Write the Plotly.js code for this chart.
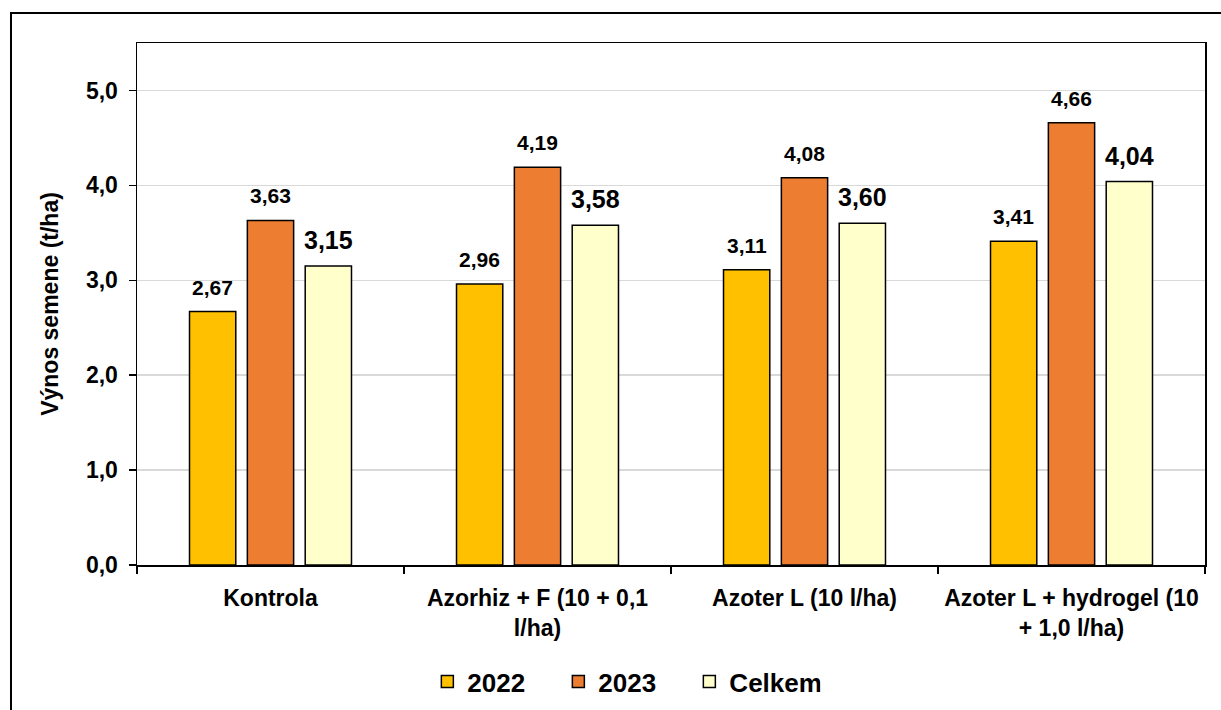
<!DOCTYPE html>
<html>
<head>
<meta charset="utf-8">
<script src="https://cdn.plot.ly/plotly-3.0.1.min.js"></script>
<style>
html,body{margin:0;padding:0;background:#fff;}
#chart{width:1221px;height:710px;}
#frame{position:absolute;left:10px;top:12px;width:1300px;height:800px;border-left:2px solid #000;border-top:2px solid #000;pointer-events:none;}
</style>
</head>
<body>
<div id="chart"></div>
<div id="frame"></div>
<script>
const categories = ["Kontrola", "Azorhiz + F (10 + 0,1<br>l/ha)", "Azoter L (10 l/ha)", "Azoter L + hydrogel (10<br>+ 1,0 l/ha)"];
const seriesNames = ["2022", "2023", "Celkem"];
const values2022 = [2.67, 2.96, 3.11, 3.41];
const values2023 = [3.63, 4.19, 4.08, 4.66];
const valuesCelkem = [3.15, 3.58, 3.60, 4.04];
const colors = ["#FFC000", "#ED7D31", "#FFFFCC"];
const labelSizes = [21, 21, 25];

const FONT = "Liberation Sans, Arial, sans-serif";
const BARGAP = 0.35, BARGROUPGAP = 0.2;
const allSeries = [values2022, values2023, valuesCelkem];

const data = allSeries.map((vals, s) => ({
  type: "bar", name: seriesNames[s], x: categories, y: vals,
  marker: {color: colors[s], line: {color: "#000", width: 1.5}},
  hoverinfo: "skip"
}));
// invisible spacer entry so the last legend label is not clipped
data.push({type: "bar", name: " ", x: [], y: [], marker: {color: "rgba(0,0,0,0)", line: {width: 0}}, hoverinfo: "skip"});

// value labels placed above each bar (group slot offset from bar layout params)
const slot = (1 - BARGAP) / allSeries.length;
const annotations = [];
allSeries.forEach((vals, s) => {
  vals.forEach((v, i) => {
    annotations.push({
      x: i + (s - (allSeries.length - 1) / 2) * slot, y: v, xref: "x", yref: "y",
      text: v.toFixed(2).replace(".", ","), showarrow: false,
      yanchor: "bottom", yshift: s < 2 ? 11 : 10,
      font: {family: FONT, size: labelSizes[s], color: "#000", weight: "bold"}
    });
  });
});

const layout = {
  width: 1221, height: 710,
  margin: {l: 137, r: 16, t: 43, b: 145},
  paper_bgcolor: "#fff", plot_bgcolor: "#fff",
  separators: ",.",
  font: {family: FONT, color: "#000", weight: "bold"},
  barmode: "group", bargap: BARGAP, bargroupgap: BARGROUPGAP,
  showlegend: true,
  annotations: annotations,
  legend: {orientation: "h", xref: "container", yref: "container", x: 0.35, xanchor: "left", y: 0.04, yanchor: "middle",
           font: {family: FONT, size: 26, color: "#000", weight: "bold"}, itemwidth: 30, entrywidth: 86},
  xaxis: {
    type: "category", showline: true, linecolor: "#000", linewidth: 1.5, mirror: true,
    ticks: "outside", ticklen: 7, tickwidth: 1.5, tickcolor: "#000", tickson: "boundaries",
    ticklabelstandoff: 12,
    showgrid: false, automargin: false, tickfont: {family: FONT, size: 23, color: "#000", weight: "bold"}
  },
  yaxis: {
    range: [0, 5.5], dtick: 1, tickformat: ".1f", showline: true, linecolor: "#000", linewidth: 1.5, mirror: true,
    ticks: "outside", ticklen: 7, tickwidth: 1.5, tickcolor: "#000", automargin: false,
    ticklabelstandoff: 6,
    showgrid: true, gridcolor: "#d9d9d9", gridwidth: 1.5, zeroline: false,
    tickfont: {family: FONT, size: 23, color: "#000", weight: "bold"},
    title: {text: "Výnos semene (t/ha)", standoff: 21, font: {family: FONT, size: 23, color: "#000", weight: "bold"}}
  }
};
Plotly.newPlot("chart", data, layout, {displayModeBar: false, staticPlot: true});
</script>
</body>
</html>
